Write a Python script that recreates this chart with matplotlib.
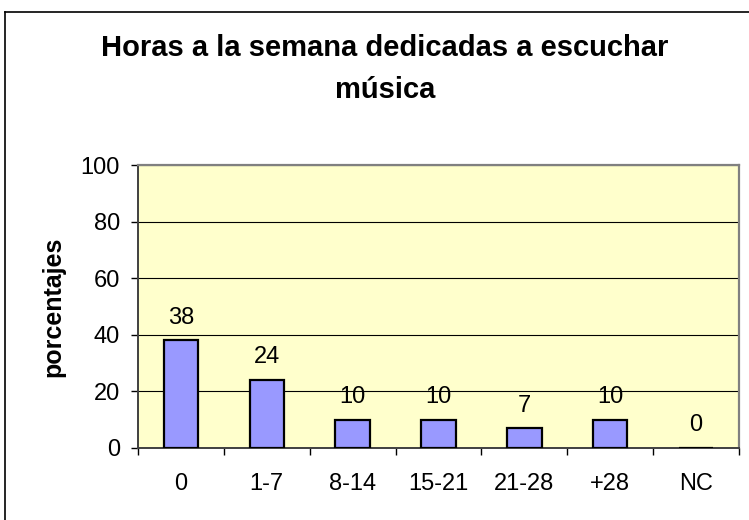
import numpy as np
import matplotlib.pyplot as plt
from matplotlib.lines import Line2D

# Datos del grafico
categorias = ["0", "1-7", "8-14", "15-21", "21-28", "+28", "NC"]
porcentajes = [38, 24, 10, 10, 7, 10, 0]
yticks = [0, 20, 40, 60, 80, 100]

plt.rcParams['font.family'] = ['Liberation Sans', 'DejaVu Sans']

fig = plt.figure(figsize=(7.49, 5.2), dpi=100)
ax = fig.add_axes([138 / 749, 1 - 448 / 520, (739 - 138) / 749, (448 - 165) / 520])
ax.set_facecolor('#FFFFCC')

x = np.arange(len(categorias))
ax.bar(x, porcentajes, width=0.4, color='#9999FF', edgecolor='black', linewidth=1.6, zorder=3)

for xi, v in zip(x, porcentajes):
    ax.annotate(str(v), (xi, v), xytext=(0, 12), textcoords='offset points',
                ha='center', va='baseline', fontsize=17, zorder=4)

ax.set_xlim(-0.5, len(categorias) - 0.5)
ax.set_ylim(0, 100)
ax.set_yticks(yticks)
ax.set_xticks(x)
ax.set_xticklabels(categorias)
ax.set_xticks(np.arange(len(categorias) + 1) - 0.5, minor=True)
ax.tick_params(axis='x', which='major', length=0, pad=18, labelsize=17)
ax.tick_params(axis='x', which='minor', length=5, width=1, direction='out')
ax.tick_params(axis='y', length=5, width=1, direction='out', pad=8, labelsize=17)

ax.grid(axis='y', color='black', linewidth=0.8, zorder=1)
ax.set_axisbelow(True)

for s in ['top', 'right']:
    ax.spines[s].set_color('#808080')
    ax.spines[s].set_linewidth(1.6)
for s in ['left', 'bottom']:
    ax.spines[s].set_color('#404040')
    ax.spines[s].set_linewidth(1.4)

ax.set_ylabel("porcentajes", fontsize=18, fontweight='bold', labelpad=11)

fig.text(385 / 749, 1 - 69 / 520, "Horas a la semana dedicadas a escuchar\nmúsica",
         ha='center', va='center', fontsize=21, fontweight='bold', linespacing=1.6)

# Borde exterior del grafico (recortado a la derecha y abajo)
fig.add_artist(Line2D([5 / 749, 1], [1 - 12 / 520, 1 - 12 / 520], color='black', lw=1.2))
fig.add_artist(Line2D([5 / 749, 5 / 749], [0, 1 - 12 / 520], color='black', lw=1.2))

fig.savefig("out.png", dpi=100)
